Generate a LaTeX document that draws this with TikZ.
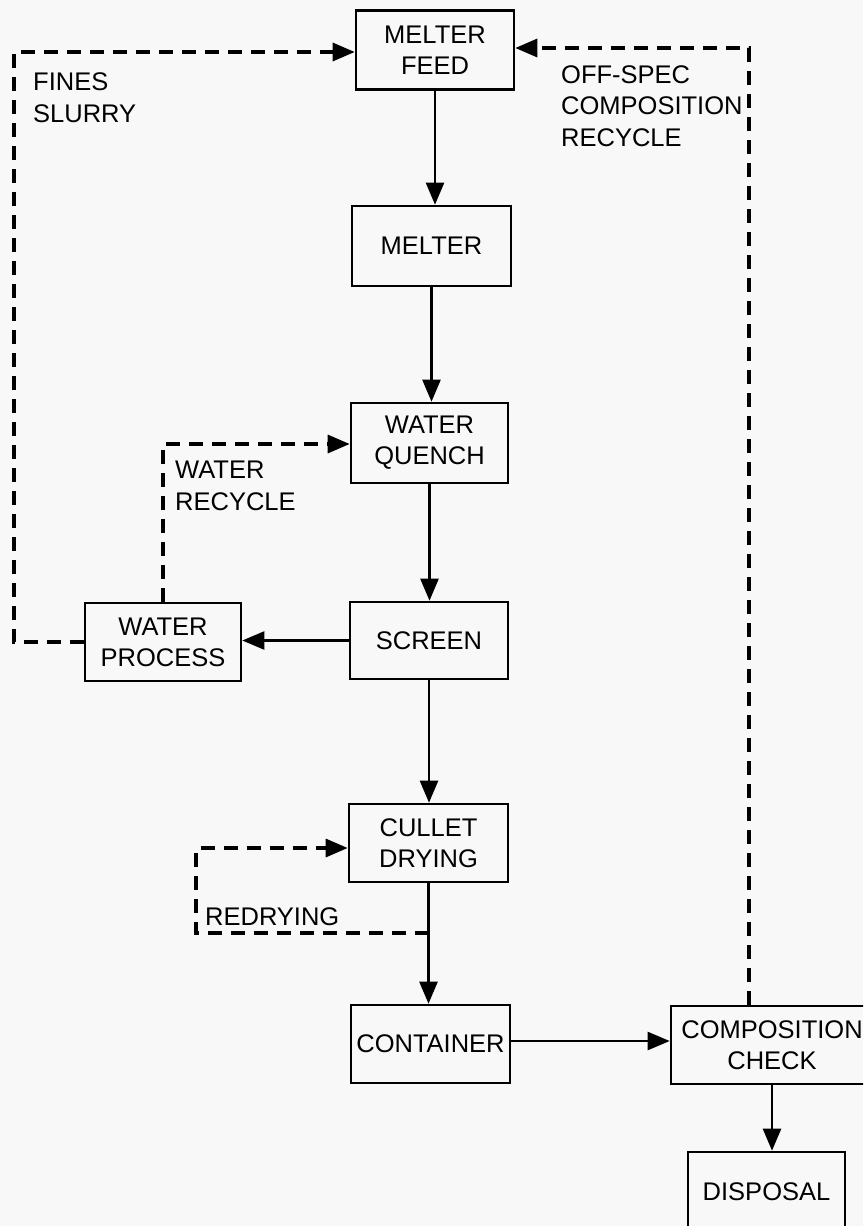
\documentclass[tikz,border=0pt]{standalone}
\usepackage{fontspec}
\setmainfont{Liberation Sans}
\usetikzlibrary{arrows.meta}
\definecolor{paper}{HTML}{F8F8F8}
\tikzset{
  box/.style={draw, line width=2.6pt, align=center, inner sep=0pt,
    font=\fontsize{25.5}{31}\selectfont},
  lbl/.style={inner sep=0pt, align=left, font=\fontsize{25.5}{31.5}\selectfont},
  arr/.style={line width=2.4pt, -{Triangle[length=22pt,width=18pt]}},
  darr/.style={line width=3.2pt, dash pattern=on 14pt off 9pt,
    -{Triangle[length=22pt,width=18pt]}},
}
\begin{document}
\begin{tikzpicture}[x=1pt,y=-1pt]
\useasboundingbox (0,0) rectangle (863,1226);
\clip (0,0) rectangle (863,1226);
\fill[paper] (0,0) rectangle (863,1226);

\node[box, minimum width=158pt, minimum height=79pt] (feed) at (435,50) {MELTER\\FEED};
\node[box, minimum width=159pt, minimum height=80pt] (melter) at (431.5,246) {MELTER};
\node[box, minimum width=157pt, minimum height=80pt] (quench) at (429.5,443) {WATER\\QUENCH};
\node[box, minimum width=158pt, minimum height=77pt] (screen) at (429,640.5) {SCREEN};
\node[box, minimum width=156pt, minimum height=78pt] (process) at (163,642) {WATER\\PROCESS};
\node[box, minimum width=159pt, minimum height=78pt] (cullet) at (428.5,843) {CULLET\\DRYING};
\node[box, minimum width=159pt, minimum height=78pt] (container) at (430.5,1044) {CONTAINER};
\node[box, minimum width=202pt, minimum height=78pt] (check) at (772,1045) {COMPOSITION\\CHECK};
\node[box, minimum width=157pt, minimum height=80pt] (disposal) at (766.5,1192) {DISPOSAL};

% solid flow
\draw[arr] (feed.south) -- (feed.south |- melter.north);
\draw[arr] (melter.south) -- (melter.south |- quench.north);
\draw[arr] (quench.south) -- (quench.south |- screen.north);
\draw[arr] (screen.south) -- (screen.south |- cullet.north);
\draw[arr] (cullet.south) -- (cullet.south |- container.north);
\draw[arr] (screen.west) -- (screen.west -| process.east);
\draw[arr] ([yshift=3pt]container.east) -- ([yshift=3pt]container.east -| check.west);
\draw[arr] (check.south) -- (check.south |- disposal.north);

% dashed recycles
\coordinate (fl) at (14,52);
\draw[darr] (process.west) -| (fl) -- (fl -| feed.west);
\coordinate (orc) at (749,48);
\draw[darr] (check.north -| orc) -- (orc) -- (orc -| feed.east);
\coordinate (wr) at (163,444);
\draw[darr] (process.north) -- (wr) -- (wr -| quench.west);
\coordinate (rd1) at (428.5,933);
\coordinate (rd2) at (196,848);
\draw[darr] (rd1) -| (rd2) -- (rd2 -| cullet.west);

% labels
\node[lbl, anchor=west] (lfines) at (33,97.5) {FINES\\SLURRY};
\node[lbl, anchor=west] (loff) at (561,106) {OFF-SPEC\\COMPOSITION\\RECYCLE};
\node[lbl, anchor=west] (lwater) at (175,486) {WATER\\RECYCLE};
\node[lbl, anchor=west] (lredry) at (205,917) {REDRYING};
\end{tikzpicture}
\end{document}
